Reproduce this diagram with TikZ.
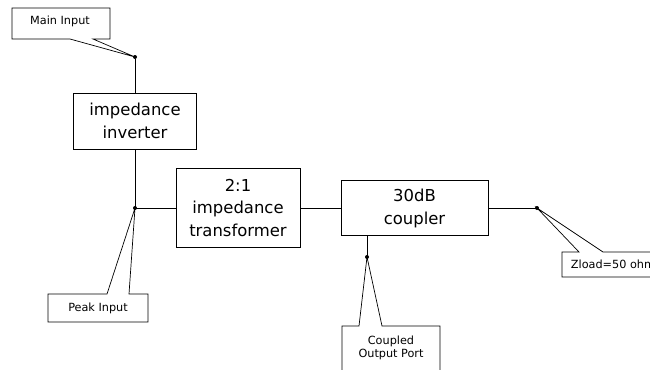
\documentclass[tikz,border=0pt]{standalone}
\usepackage{fontspec}
\setmainfont{DejaVu Sans}

\tikzset{
    block/.style={draw, align=center, inner sep=0pt, font=\fontsize{16.5}{23}\selectfont},
    note/.style={align=center, inner sep=0pt, font=\fontsize{11.3}{12.8}\selectfont},
    junction/.style={circle, fill, inner sep=0pt, minimum size=4bp},
}

\begin{document}
\begin{tikzpicture}[x=1bp, y=-1bp, line width=0.9bp]
    \useasboundingbox (0,0) rectangle (650,369);
    \clip (0,0) rectangle (650,369);

    % main signal chain
    \node[block, minimum width=123bp, minimum height=56bp] (inverter) at (135,121) {impedance\\inverter};
    \node[block, minimum width=124bp, minimum height=79bp] (transformer) at (238,208) {2:1\\impedance\\transformer};
    \node[block, minimum width=147bp, minimum height=55bp] (coupler) at (414.5,208) {30dB\\coupler};

    \node[junction] (mainjoin) at (135,57) {};
    \node[junction] (peakjoin) at (135,208) {};
    \node[junction] (coupjoin) at (367,257) {};
    \node[junction] (loadjoin) at (537,208) {};

    \draw (mainjoin) -- (inverter.north);
    \draw (inverter.south) -- (peakjoin.center) -- (transformer.west);
    \draw (transformer) -- (coupler);
    \draw (coupler) -- (loadjoin.center);
    \draw (coupjoin |- coupler.south) -- (coupjoin.center);

    % callouts
    \node[note] (mainlbl) at (60,21.5) {Main Input};
    \draw[line width=0.7bp] (70,39) -| (12,8) -| (110,39) -- (93,39) -- (mainjoin.center) -- cycle;

    \node[note] (peaklbl) at (98,308) {Peak Input};
    \draw[line width=0.7bp] (107,294) -| (48,322) -| (148,294) -- (129,294) -- (peakjoin.center) -- cycle;

    \node[note] (couplbl) at (391,348) {Coupled\\Output Port};
    \draw[line width=0.7bp] (359,326) -| (342,385) -| (440,326) -- (382,326) -- (coupjoin.center) -- cycle;

    \node[note, anchor=west] (loadlbl) at (570.5,264.5) {Zload=50 ohm};
    \draw[line width=0.7bp] (579,252) -| (562,277) -| (680,252) -- (603,252) -- (loadjoin.center) -- cycle;

\end{tikzpicture}
\end{document}
